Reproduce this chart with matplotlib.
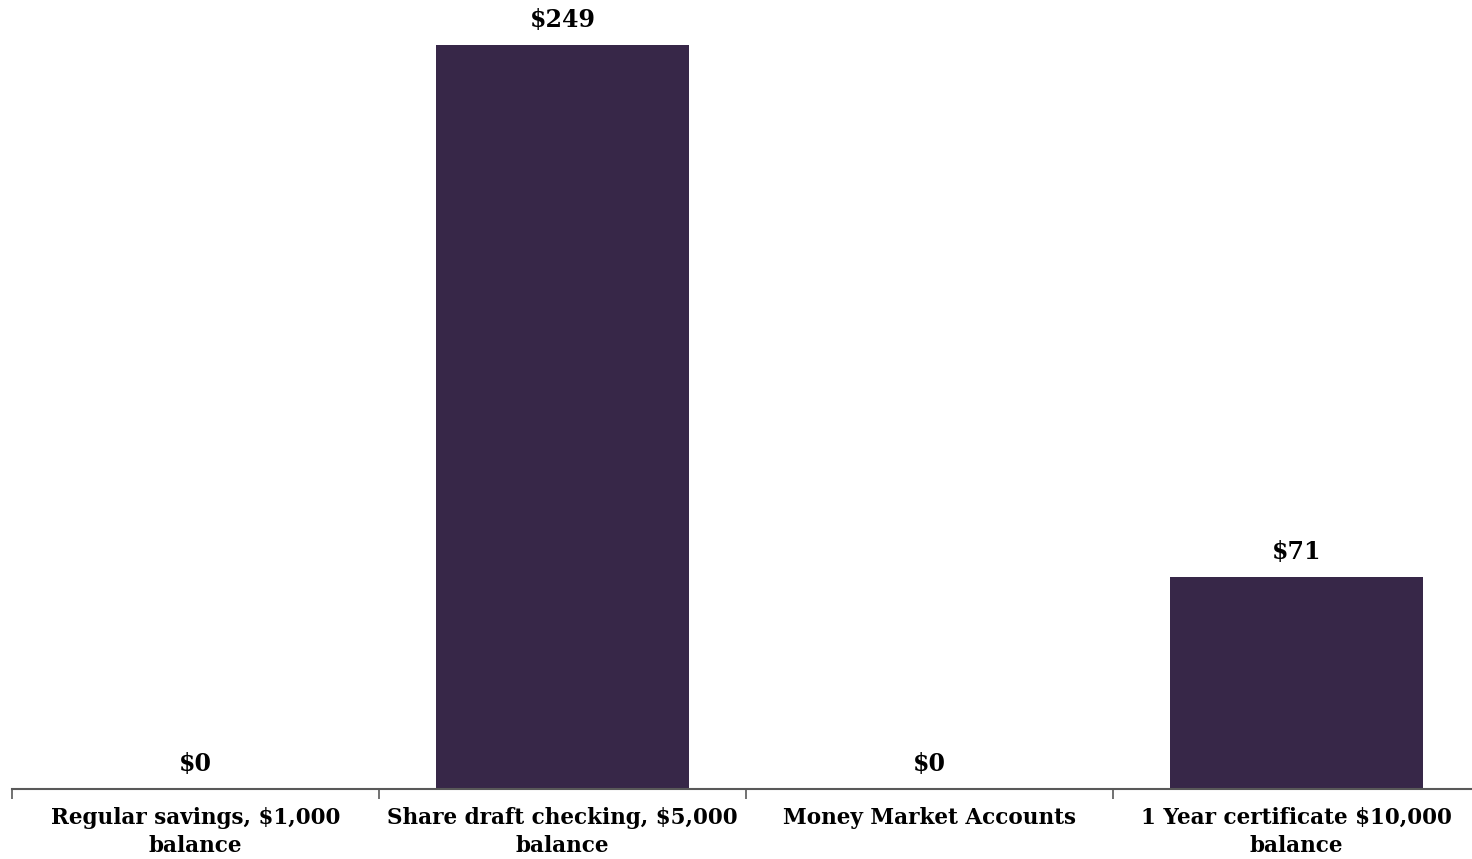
import matplotlib.pyplot as plt
import numpy as np

categories = ["Regular savings, $1,000\nbalance",
              "Share draft checking, $5,000\nbalance",
              "Money Market Accounts",
              "1 Year certificate $10,000\nbalance"]
values = [0, 249, 0, 71]
value_labels = ["$0", "$249", "$0", "$71"]

plt.rcParams['font.family'] = ['DejaVu Serif']
plt.rcParams['font.weight'] = 'bold'

fig = plt.figure(figsize=(14.72, 8.59), dpi=100)
ax = fig.add_axes([12 / 1472, 70 / 859, 1468 / 1472, 789 / 859])

x = np.arange(len(categories))
ax.bar(x, values, width=0.687, color="#372748")

for xi, v, lab in zip(x, values, value_labels):
    ax.annotate(lab, (xi, v), xytext=(0, 9), textcoords="offset points",
                ha="center", va="bottom", fontsize=17, fontweight="bold")

ax.set_xlim(-0.5, 3.5)
ax.set_ylim(0, 264)

for s in ["top", "right", "left"]:
    ax.spines[s].set_visible(False)
ax.spines["bottom"].set_color("#595959")
ax.spines["bottom"].set_linewidth(1.5)

ax.set_yticks([])
ax.set_xticks(np.arange(-0.5, 4, 1))
ax.set_xticklabels([])
ax.tick_params(axis="x", which="major", length=7, color="#595959", width=1.2)
ax.set_xticks(x, minor=True)
ax.set_xticklabels(categories, minor=True, fontsize=15.5, fontweight="bold",
                   linespacing=1.35)
ax.tick_params(axis="x", which="minor", length=0, pad=13)

fig.savefig("out.png", dpi=100)
